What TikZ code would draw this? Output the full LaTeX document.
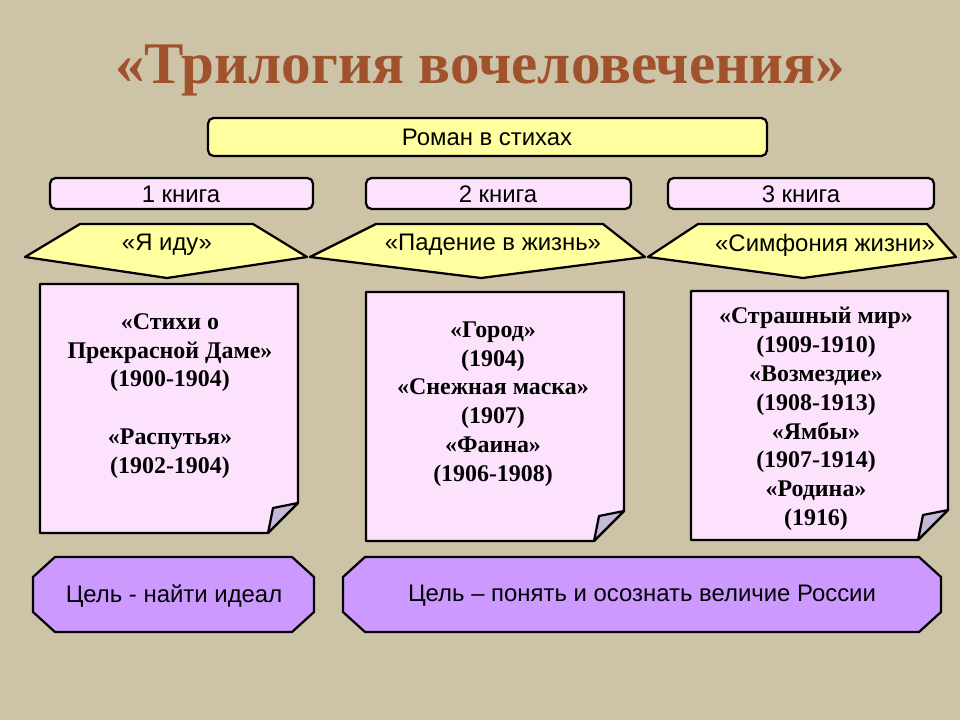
\documentclass[tikz,border=0pt]{standalone}
\usepackage{fontspec}
\setmainfont{Liberation Serif}
\setsansfont{Liberation Sans}
\usetikzlibrary{positioning}

\definecolor{bg}   {RGB}{205,196,168}
\definecolor{ttl}  {RGB}{160,82,45}
\definecolor{yel}  {RGB}{255,255,160}
\definecolor{pnk}  {RGB}{252,226,252}
\definecolor{lil}  {RGB}{204,153,255}
\definecolor{fold} {RGB}{196,186,214}

\tikzset{
  booklbl/.style={font=\sffamily\fontsize{17}{19}\selectfont},
  notetxt/.style={font=\bfseries\fontsize{17}{20.5}\selectfont, align=center},
  edge/.style={draw=black, line width=1.6pt, line join=round},
}

\begin{document}
\begin{tikzpicture}[x=0.025cm, y=-0.025cm]

    \fill[bg] (0,0) rectangle (960,720);

    \node(title) at (480,70) {\color{ttl}\bfseries\fontsize{42}{46}\selectfont «Трилогия вочеловечения»};

    \draw[edge, fill=yel, rounded corners=4pt] (208,118) rectangle (767,156);
    \node[booklbl](roman) at (487,137) {Роман в стихах};

    \draw[edge, fill=pnk, rounded corners=4pt] (50,178) rectangle (313,209);
    \draw[edge, fill=pnk, rounded corners=4pt] (366,178) rectangle (631,209);
    \draw[edge, fill=pnk, rounded corners=4pt] (668,178) rectangle (934,209);
    \node[booklbl](b1) at (181,194) {1 книга};
    \node[booklbl](b2) at (498,194) {2 книга};
    \node[booklbl](b3) at (801,194) {3 книга};

    % banners
    \draw[edge, fill=yel] (80,224) -- (253,224) -- (307,257) -- (167,278) -- (25,257) -- cycle;
    \draw[edge, fill=yel] (376,224) -- (603,224) -- (645,257) -- (481,278) -- (310,257) -- cycle;
    \draw[edge, fill=yel] (698,224) -- (927,224) -- (956,257) -- (803,278) -- (648,257) -- cycle;
    \node[booklbl](t1) at (167,245) {«Я иду»};
    \node[booklbl](t2) at (493,245) {«Падение в жизнь»};
    \node[booklbl](t3) at (825,245) {«Симфония жизни»};

    % notes
    \draw[edge, fill=pnk] (40,284) -- (298,284) -- (298,503) -- (268,533) -- (40,533) -- cycle;
    \draw[edge, fill=fold] (298,503) -- (273,508) -- (268,533) -- cycle;
    \draw[edge, fill=pnk] (366,292) -- (624,292) -- (624,511) -- (594,541) -- (366,541) -- cycle;
    \draw[edge, fill=fold] (624,511) -- (599,516) -- (594,541) -- cycle;
    \draw[edge, fill=pnk] (691,291) -- (948,291) -- (948,510) -- (918,540) -- (691,540) -- cycle;
    \draw[edge, fill=fold] (948,510) -- (923,515) -- (918,540) -- cycle;

    \node[notetxt](n1) at (170,396) {«Стихи о\\Прекрасной Даме»\\(1900-1904)\\[20.5pt]«Распутья»\\(1902-1904)};
    \node[notetxt](n2) at (493,404) {«Город»\\(1904)\\«Снежная маска»\\(1907)\\«Фаина»\\(1906-1908)};
    \node[notetxt](n3) at (816,419) {«Страшный мир»\\(1909-1910)\\«Возмездие»\\(1908-1913)\\«Ямбы»\\(1907-1914)\\«Родина»\\(1916)};

    % goals
    \draw[edge, fill=lil] (55,557) -- (292,557) -- (314,577) -- (314,612) -- (292,632) -- (55,632) -- (33,612) -- (33,577) -- cycle;
    \draw[edge, fill=lil] (365,557) -- (919,557) -- (941,577) -- (941,612) -- (919,632) -- (365,632) -- (343,612) -- (343,577) -- cycle;
    \node[booklbl](g1) at (174,596) {Цель - найти идеал};
    \node[booklbl](g2) at (642,596) {Цель – понять и осознать величие России};

\end{tikzpicture}
\end{document}
